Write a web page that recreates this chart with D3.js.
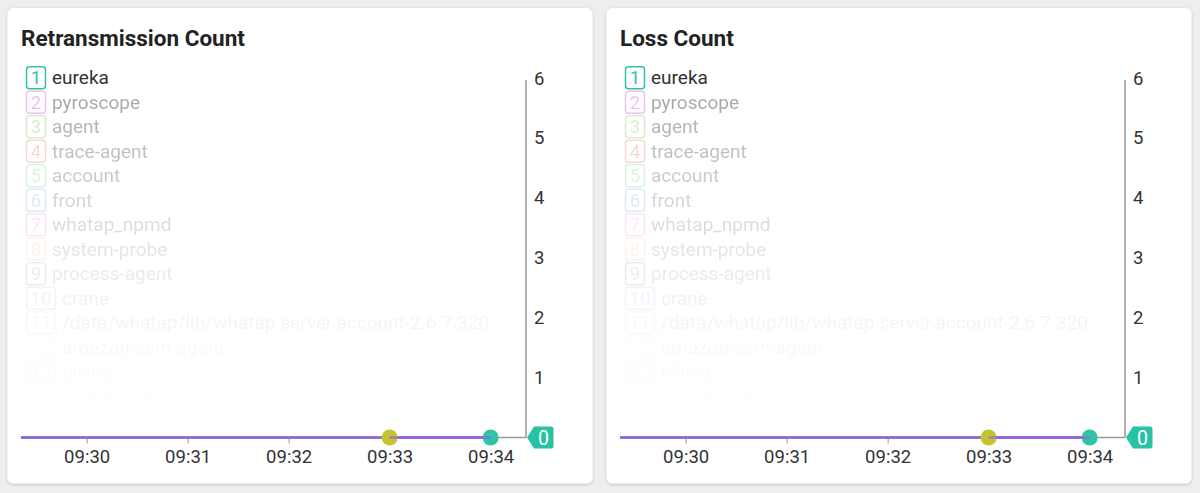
<!DOCTYPE html>
<html>
<head>
<meta charset="utf-8">
<script src="https://cdn.jsdelivr.net/npm/d3@7"></script>
<style>
  html, body { margin: 0; padding: 0; background: #eeeeee; }
  svg { display: block; font-family: Roboto, "Noto Sans", sans-serif; }
</style>
</head>
<body>
<svg id="chart" width="1200" height="493"></svg>
<script>
// ---------- data ----------
const panelTitles = ["Retransmission Count", "Loss Count"];
const seriesNames = ["eureka", "pyroscope", "agent", "trace-agent", "account", "front",
  "whatap_npmd", "system-probe", "process-agent", "crane",
  "/data/whatap/lib/whatap.server.account-2.6.7.320...", "amazon-ssm-agent", "billing", "whatap_infrad"];
const seriesColors = ["#2ec4a6", "#d46be0", "#9ccf62", "#ef7d6b", "#6cd393", "#5b8ff0",
  "#ee69cf", "#f3a553", "#444444", "#4b4be0", "#888888", "#e3c443", "#2ec4a6", "#bbbbbb"];
const xTickLabels = ["09:30", "09:31", "09:32", "09:33", "09:34"];
const xDomain = ["09:29:21", "09:34:21"];
const yTicks = [0, 1, 2, 3, 4, 5, 6];
const yMax = 6;
const lineTimes = ["09:29:21", "09:30", "09:31", "09:32", "09:33", "09:34"];
const retransEureka = [0, 0, 0, 0, 0, 0];
const retransPyroscope = [0, 0, 0, 0, 0, 0];
const lossEureka = [0, 0, 0, 0, 0, 0];
const lossPyroscope = [0, 0, 0, 0, 0, 0];
const markerSeries = ["agent", "eureka"];
const markerTimes = ["09:33", "09:34"];
const retransMarkerValues = [0, 0];
const lossMarkerValues = [0, 0];
const markerColors = ["#c4c52e", "#2ec4a6"];
const lineColor = "#9b5ee0";
const retransLast = 0;
const lossLast = 0;

// ---------- drawing ----------
const parseT = d3.timeParse("%H:%M:%S");
const parseTime = s => parseT(s.length === 5 ? s + ":00" : s);

const svg = d3.select("#chart");
const defs = svg.append("defs");
const f = defs.append("filter").attr("id", "shadow").attr("x", "-5%").attr("y", "-5%").attr("width", "110%").attr("height", "110%");
f.append("feDropShadow").attr("dx", 0).attr("dy", 1).attr("stdDeviation", 1.5).attr("flood-color", "#000").attr("flood-opacity", 0.22);

const panels = [
  { title: panelTitles[0], eureka: retransEureka, pyro: retransPyroscope, markers: retransMarkerValues, last: retransLast },
  { title: panelTitles[1], eureka: lossEureka, pyro: lossPyroscope, markers: lossMarkerValues, last: lossLast }
];

function legendOpacity(i) {
  if (i === 0) return 1;
  const t = Math.max(0, 1 - (i - 1) / 13.8);
  return 0.42 * Math.pow(t, 2.1);
}

panels.forEach((p, pi) => {
  const g = svg.append("g").attr("transform", `translate(${pi * 599},0)`);
  g.append("rect").attr("x", 7.5).attr("y", 8).attr("width", 585).attr("height", 475.5)
    .attr("rx", 6).attr("fill", "#fff").attr("filter", "url(#shadow)");

  g.append("text").attr("x", 21).attr("y", 46).attr("font-size", 22.5).attr("font-weight", 700)
    .attr("fill", "#222").text(p.title);

  // legend
  const leg = g.append("g");
  seriesNames.forEach((name, i) => {
    const cy = 77.8 + i * 24.5;
    const op = legendOpacity(i);
    const numW = String(i + 1).length > 1 ? 29 : 19;
    const row = leg.append("g").attr("opacity", op);
    row.append("rect").attr("x", 26.5).attr("y", cy - 11).attr("width", numW).attr("height", 22)
      .attr("rx", 3).attr("fill", "none").attr("stroke", seriesColors[i]).attr("stroke-width", 1.5);
    row.append("text").attr("x", 26.5 + numW / 2).attr("y", cy + 6.5).attr("text-anchor", "middle")
      .attr("font-size", 18.5).attr("fill", seriesColors[i]).text(i + 1);
    row.append("text").attr("x", 26.5 + numW + 6.5).attr("y", cy + 6.5)
      .attr("font-size", 19).attr("fill", "#333").text(name);
  });

  // scales
  const x = d3.scaleTime().domain(xDomain.map(parseTime)).range([21, 526]);
  const y = d3.scaleLinear().domain([0, yMax]).range([437.5, 78]);

  // x axis
  const xAxis = d3.axisBottom(x).tickValues(xTickLabels.map(parseTime))
    .tickFormat(d3.timeFormat("%H:%M")).tickSize(5).tickPadding(6);
  const xg = g.append("g").attr("transform", `translate(0,${y(0) + 1})`).call(xAxis);
  xg.select(".domain").remove();
  xg.selectAll(".tick line").attr("stroke", "#999");
  xg.selectAll(".tick text").attr("font-size", 18.5).attr("fill", "#333").attr("font-family", "Roboto");

  // axis lines
  g.append("line").attr("x1", 21).attr("x2", 526).attr("y1", y(0)).attr("y2", y(0))
    .attr("stroke", "#999").attr("stroke-width", 1.5);
  g.append("line").attr("x1", 526).attr("x2", 526).attr("y1", y(yMax) + 2).attr("y2", y(0))
    .attr("stroke", "#999").attr("stroke-width", 1.5);

  // y tick labels
  yTicks.filter(v => v !== p.last).forEach(v => {
    g.append("text").attr("x", 534).attr("y", y(v) + 6.5).attr("font-size", 18.5).attr("fill", "#333").text(v);
  });

  // lines
  const line = d3.line().x((d, i) => x(parseTime(lineTimes[i]))).y(d => y(d));
  g.append("path").datum(p.eureka).attr("d", line).attr("fill", "none")
    .attr("stroke", seriesColors[0]).attr("stroke-width", 2.5);
  g.append("path").datum(p.pyro).attr("d", line).attr("fill", "none")
    .attr("stroke", lineColor).attr("stroke-width", 2.5);

  // markers
  markerTimes.forEach((t, i) => {
    g.append("circle").attr("cx", x(parseTime(t))).attr("cy", y(p.markers[i])).attr("r", 8)
      .attr("fill", markerColors[i]);
  });
  // line end drawn over the teal dot like the reference
  g.append("path").datum(p.pyro.slice(-2)).attr("d", d3.line()
      .x((d, i) => x(parseTime(lineTimes[lineTimes.length - 2 + i]))).y(d => y(d)))
    .attr("fill", "none").attr("stroke", lineColor).attr("stroke-width", 2.5).attr("opacity", 0.7);

  // last value badge
  const by = y(p.last);
  const bx = 527;
  g.append("path").attr("d",
    `M${bx},${by} L${bx + 7},${by - 11} L${bx + 24},${by - 11} Q${bx + 26.5},${by - 11} ${bx + 26.5},${by - 8.5}
     L${bx + 26.5},${by + 8.5} Q${bx + 26.5},${by + 11} ${bx + 24},${by + 11} L${bx + 7},${by + 11} Z`)
    .attr("fill", "#26c2a3");
  g.append("text").attr("x", bx + 16.5).attr("y", by + 7).attr("text-anchor", "middle")
    .attr("font-size", 19.5).attr("fill", "#fff").text(p.last);
});
</script>
</body>
</html>
